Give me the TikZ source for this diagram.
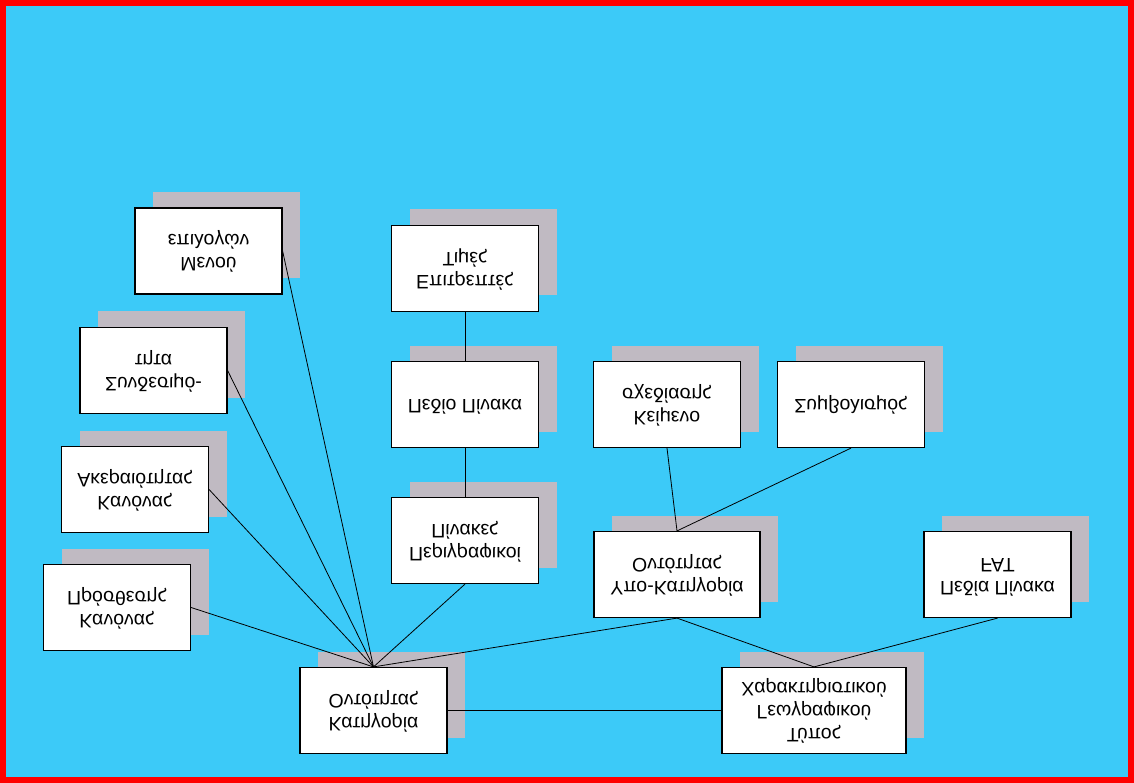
\documentclass[tikz,border=0pt]{standalone}
\usepackage{fontspec}
\setmainfont{Liberation Sans}
\usepackage{graphicx}
\usetikzlibrary{shadows}

\definecolor{bgcyan}{RGB}{60,202,248}
\definecolor{shadegray}{RGB}{192,186,194}
\newcommand{\fliptext}[1]{\scalebox{1}[-1]{\begin{tabular}{@{}c@{}}#1\end{tabular}}}

\begin{document}
\begin{tikzpicture}[
  x=1pt,y=-1pt,
  box/.style={draw,line width=1.2pt,fill=white,minimum width=147pt,minimum height=86pt,inner sep=0pt,
    drop shadow={shadow xshift=18pt,shadow yshift=16pt,fill=shadegray,opacity=1}},
  link/.style={line width=0.8pt},
  every node/.append style={font=\fontsize{19.5}{23}\selectfont}
]
  \fill[red] (0,0) rectangle (1134,783);
  \fill[bgcyan] (6,6) rectangle (1128,777);

  \node[box] (menu) at (208.5,251) {\fliptext{Μενού\\επιλογών}};
  \node[box] (conn) at (153.5,370.5) {\fliptext{Συνδεσιμό-\\τητα}};
  \node[box] (integ) at (135,489.5) {\fliptext{Κανόνας\\Ακεραιότητας}};
  \node[box] (addrule) at (117,607.5) {\fliptext{Κανόνας\\Πρόσθεσης}};
  \node[box] (cat) at (373.5,710.5) {\fliptext{Κατηγορία\\Οντότητας}};

  \node[box] (allowed) at (465,268.5) {\fliptext{Επιτρεπτές\\Τιμές}};
  \node[box] (field) at (465,404.5) {\fliptext{Πεδίο Πίνακα}};
  \node[box] (descr) at (465,540.5) {\fliptext{Περιγραφικοί\\Πίνακες}};

  \node[box] (sketch) at (667,404.5) {\fliptext{Κείμενο\\σχεδίασης}};
  \node[box] (symb) at (851,404.5) {\fliptext{Συμβολισμός}};
  \node[box,minimum width=166pt] (subcat) at (677,574.5) {\fliptext{Υπο-Κατηγορία\\Οντότητας}};
  \node[box] (fat) at (997.5,574.5) {\fliptext{Πεδία Πίνακα\\FAT}};
  \node[box,minimum width=184pt] (gtype) at (814,710.5) {\fliptext{Τύπος\\Γεωγραφικού\\Χαρακτηριστικού}};

  % links into the entity category
  \draw[link] (menu.east) -- (cat.north);
  \draw[link] (conn.east) -- (cat.north);
  \draw[link] (integ.east) -- (cat.north);
  \draw[link] (addrule.east) -- (cat.north);
  \draw[link] (descr.south) -- (cat.north);
  \draw[link] (subcat.south) -- (cat.north);
  \draw[link] (cat.east) -- (gtype.west);

  \draw[link] (allowed) -- (field);
  \draw[link] (field) -- (descr);

  \draw[link] (sketch.south) -- (subcat.north);
  \draw[link] (symb.south) -- (subcat.north);
  \draw[link] (subcat.south) -- (gtype.north);
  \draw[link] (fat.south) -- (gtype.north);
\end{tikzpicture}
\end{document}
